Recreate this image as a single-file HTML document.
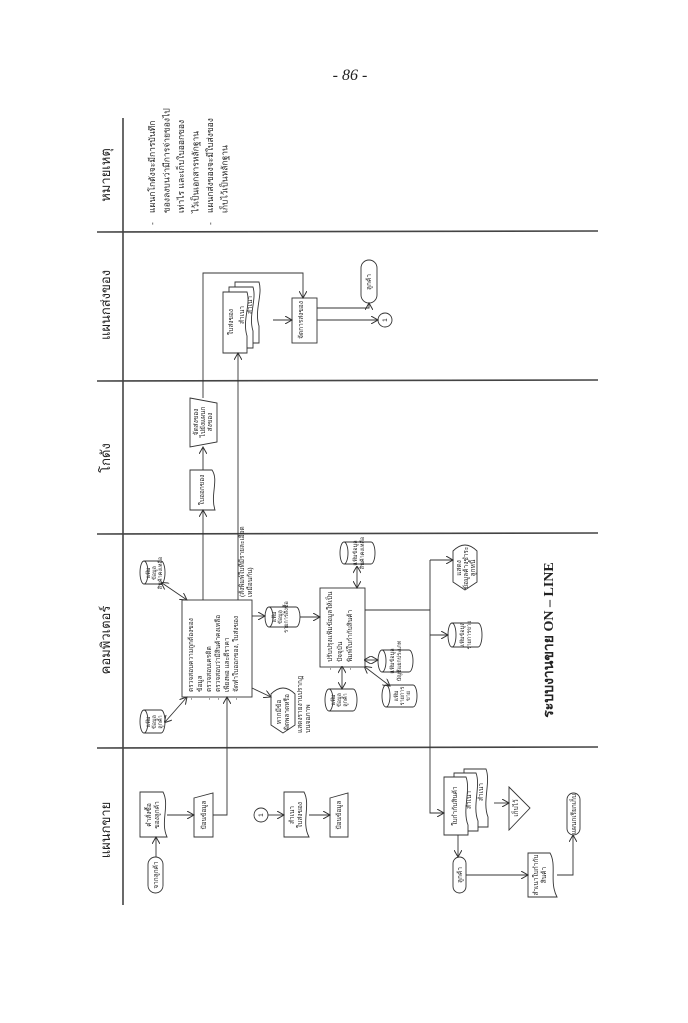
<!DOCTYPE html>
<html><head><meta charset="utf-8"><style>
html,body{margin:0;padding:0;background:#fff}
svg{display:block}
text{font-family:"Liberation Sans","Noto Sans CJK SC",sans-serif;fill:#222}
.s{font-size:6.5px}
.d{font-size:5.5px}
.l{font-size:13px}
.n{font-size:8.5px}
</style></head><body>
<svg width="688" height="1023" viewBox="0 0 688 1023" xmlns="http://www.w3.org/2000/svg">
<defs>
<marker id="a" markerWidth="8" markerHeight="8" refX="7" refY="4" orient="auto" markerUnits="userSpaceOnUse">
<path d="M0,0 L7,4 L0,8" fill="none" stroke="#333" stroke-width="1"/></marker>
<marker id="b" markerWidth="8" markerHeight="8" refX="1" refY="4" orient="auto" markerUnits="userSpaceOnUse">
<path d="M7,0 L0,4 L7,8" fill="none" stroke="#333" stroke-width="1"/></marker>
</defs>
<rect width="688" height="1023" fill="#fff"/>
<text x="350" y="80" text-anchor="middle" style="font-family:'Liberation Serif',serif;font-style:italic;font-size:16px">- 86 -</text>

<g stroke="#444" stroke-width="1.6" fill="none">
<line x1="123" y1="118" x2="123" y2="905"/>
<line x1="97" y1="232" x2="598" y2="231"/>
<line x1="97" y1="381" x2="598" y2="380"/>
<line x1="97" y1="534" x2="598" y2="533"/>
<line x1="97" y1="748" x2="598" y2="747"/>
</g>

<g class="l">
<text transform="translate(110,175) rotate(-90)" text-anchor="middle">หมายเหตุ</text>
<text transform="translate(110,305) rotate(-90)" text-anchor="middle">แผนกส่งของ</text>
<text transform="translate(110,458) rotate(-90)" text-anchor="middle">โกดัง</text>
<text transform="translate(110,640) rotate(-90)" text-anchor="middle">คอมพิวเตอร์</text>
<text transform="translate(110,830) rotate(-90)" text-anchor="middle">แผนกขาย</text>
</g>

<g class="n" transform="translate(155,213) rotate(-90)">
<text x="-12" y="0">-</text><text x="0" y="0">แผนกโกดังจะมีการบันทึก</text>
<text x="0" y="14.5">ของลงบนว่ามีการจ่ายของไป</text>
<text x="0" y="29">เท่าไร และเก็บใบออกของ</text>
<text x="0" y="43.5">ไว้เป็นเอกสารหลักฐาน</text>
<text x="-12" y="58">-</text><text x="0" y="58">แผนกส่งของจะมีใบส่งของ</text>
<text x="0" y="72.5">เก็บไว้เป็นหลักฐาน</text>
</g>

<g stroke="#333" stroke-width="0.9" fill="#fff">
<path d="M223,292 H247 C251,305 242,320 247,336 V353 H223 Z" transform="translate(12,-10)"/>
<path d="M223,292 H247 C251,305 242,320 247,336 V353 H223 Z" transform="translate(6,-5)"/>
<path d="M223,292 H247 C251,305 242,320 247,336 V353 H223 Z"/>
<rect x="292" y="298" width="25" height="45"/>
<rect x="361" y="260" width="16" height="43" rx="8"/>
<circle cx="385" cy="320" r="7"/>
<path d="M190,470 H212 C219,480 210,495 215,510 H190 Z"/>
<path d="M190,398 L217,403 L217,442 L190,447 Z"/>
<rect x="182" y="600" width="70" height="97"/>
<rect x="320" y="588" width="45" height="79"/>
<path d="M283,733 L271,725 L271,694 Q283,682 295,694 L295,725 Z"/>
<path d="M465,590 L453,582 L453,551 Q465,539 477,551 L477,582 Z"/>
<rect x="148" y="857" width="15" height="36" rx="7.5"/>
<path d="M140,792 H163 C170,805 160,822 167,837 H140 Z"/>
<path d="M194,798 L213,793 L213,837 L194,837 Z"/>
<circle cx="261" cy="815" r="7"/>
<path d="M284,792 H304 C311,805 301,822 309,837 H284 Z"/>
<path d="M330,798 L348,793 L348,837 L330,837 Z"/>
<path d="M444,777 H466 C471,790 462,810 468,825 V835 H444 Z" transform="translate(20,-8)"/>
<path d="M444,777 H466 C471,790 462,810 468,825 V835 H444 Z" transform="translate(10,-4)"/>
<path d="M444,777 H466 C471,790 462,810 468,825 V835 H444 Z"/>
<path d="M509,787 L509,830 L530,808 Z"/>
<rect x="453" y="857" width="13" height="36" rx="6.5"/>
<path d="M528,853 H550 C557,865 549,882 557,897 H528 Z"/>
<rect x="567" y="793" width="13" height="42" rx="6.5"/>
</g>

<g stroke="#333" stroke-width="0.9" fill="#fff">
<g transform="translate(140,710)"><path d="M4,0 H21 A4,11.5 0 0 1 21,23 H4 Z"/><ellipse cx="4" cy="11.5" rx="4" ry="11.5"/></g>
<g transform="translate(140,561)"><path d="M4,0 H21 A4,11.5 0 0 1 21,23 H4 Z"/><ellipse cx="4" cy="11.5" rx="4" ry="11.5"/></g>
<g transform="translate(265,607)"><path d="M4,0 H31 A4,10 0 0 1 31,20 H4 Z"/><ellipse cx="4" cy="10" rx="4" ry="10"/></g>
<g transform="translate(340,542)"><path d="M4,0 H31 A4,11 0 0 1 31,22 H4 Z"/><ellipse cx="4" cy="11" rx="4" ry="11"/></g>
<g transform="translate(325,689)"><path d="M4,0 H28 A4,11 0 0 1 28,22 H4 Z"/><ellipse cx="4" cy="11" rx="4" ry="11"/></g>
<g transform="translate(382,685)"><path d="M4,0 H31 A4,11 0 0 1 31,22 H4 Z"/><ellipse cx="4" cy="11" rx="4" ry="11"/></g>
<g transform="translate(378,650)"><path d="M4,0 H31 A4,11 0 0 1 31,22 H4 Z"/><ellipse cx="4" cy="11" rx="4" ry="11"/></g>
<g transform="translate(448,623)"><path d="M4,0 H30 A4,12 0 0 1 30,24 H4 Z"/><ellipse cx="4" cy="12" rx="4" ry="12"/></g>
</g>

<g stroke="#333" stroke-width="0.9" fill="none">
<path d="M203,600 V510" marker-end="url(#a)"/>
<path d="M203,470 V447" marker-end="url(#a)"/>
<path d="M203,398 V273 H303 V298" marker-end="url(#a)"/>
<path d="M238,600 V353" marker-end="url(#a)"/>
<path d="M273,320 H292" marker-end="url(#a)"/>
<path d="M317,308 H369 V303" marker-end="url(#a)"/>
<path d="M317,320 H378" marker-end="url(#a)"/>
<path d="M156,857 V837" marker-end="url(#a)"/>
<path d="M167,815 H194" marker-end="url(#a)"/>
<path d="M213,815 H227 V697" marker-end="url(#a)"/>
<path d="M268,815 H284" marker-end="url(#a)"/>
<path d="M309,815 H330" marker-end="url(#a)"/>
<path d="M165,722 L187,697" marker-end="url(#a)" marker-start="url(#b)"/>
<path d="M162,583 L187,600" marker-end="url(#a)" marker-start="url(#b)"/>
<path d="M252,616 H265" marker-end="url(#a)"/>
<path d="M252,688 L271,697" marker-end="url(#a)"/>
<path d="M300,617 H320" marker-end="url(#a)"/>
<path d="M357,567 V588" marker-end="url(#a)" marker-start="url(#b)"/>
<path d="M342,667 V689" marker-end="url(#a)" marker-start="url(#b)"/>
<path d="M365,660 L378,660" marker-end="url(#a)" marker-start="url(#b)"/>
<path d="M365,667 L390,686" marker-end="url(#a)" marker-start="url(#b)"/>
<path d="M365,610 H430 V813 H444" marker-end="url(#a)"/>
<path d="M430,560 H453" marker-end="url(#a)"/>
<path d="M430,560 V610"/>
<path d="M430,635 H448" marker-end="url(#a)"/>
<path d="M494,803 H509" marker-end="url(#a)"/>
<path d="M458,835 V857" marker-end="url(#a)"/>
<path d="M466,875 H528" marker-end="url(#a)"/>
<path d="M557,875 H573 V835" marker-end="url(#a)"/>
</g>

<g class="s">
<text transform="translate(303,320) rotate(-90)" text-anchor="middle">จัดการส่งของ</text>
<text transform="translate(371,282) rotate(-90)" text-anchor="middle">ลูกค้า</text>
<text transform="translate(387,320) rotate(-90)" text-anchor="middle">1</text>
<text transform="translate(233,322) rotate(-90)" text-anchor="middle">ใบส่งของ</text>
<text transform="translate(244,315) rotate(-90)" text-anchor="middle">สำเนา</text>
<text transform="translate(252,305) rotate(-90)" text-anchor="middle">สำเนา</text>
<text transform="translate(204,490) rotate(-90)" text-anchor="middle">ใบออกของ</text>
<g transform="translate(198,422) rotate(-90)" text-anchor="middle"><text y="0">จัดส่งของ</text><text y="7">ไปยังแผนก</text><text y="14">ส่งของ</text></g>

<g transform="translate(193,692) rotate(-90)"><text x="-8">-</text><text>ตรวจสอบความถูกต้องของ</text><text y="9">ข้อมูล</text><text x="-8" y="18">-</text><text y="18">ตรวจสอบเครดิต</text><text x="-8" y="27">-</text><text y="27">ตรวจสอบว่ามีสินค้าคงเหลือ</text><text y="36">เพียงพอ และตีราคา</text><text x="-8" y="45">-</text><text y="45">จัดทำใบออกของ, ใบส่งของ</text></g>
<g transform="translate(244,597) rotate(-90)"><text>(สั่งพิมพ์ใบที่มีรายละเอียด</text><text y="8">เหมือนกัน)</text></g>
<g transform="translate(281,712) rotate(-90)" text-anchor="middle"><text>หากมีข้อ</text><text y="8">ผิดพลาดหรือ</text></g>
<g transform="translate(302,733) rotate(-90)"><text>แสดงรายงานปรากฏ</text><text y="8">บนจอภาพ</text></g>
<g transform="translate(332,662) rotate(-90)"><text x="-8">-</text><text>ปรับปรุงแฟ้มข้อมูลให้เป็น</text><text y="10">ปัจจุบัน</text><text x="-8" y="20">-</text><text y="20">พิมพ์ใบกำกับสินค้า</text></g>
</g>
<g class="d">
<g transform="translate(150,722) rotate(-90)" text-anchor="middle"><text>แฟ้ม</text><text y="6">ข้อมูล</text><text y="12">ลูกค้า</text></g>
<g transform="translate(150,573) rotate(-90)" text-anchor="middle"><text>แฟ้ม</text><text y="6">ข้อมูล</text><text y="12">สินค้าคงเหลือ</text></g>
<g transform="translate(276,617) rotate(-90)" text-anchor="middle"><text>แฟ้ม</text><text y="6">ข้อมูล</text><text y="12">รายการสั่งซื้อ</text></g>
<g transform="translate(357,553) rotate(-90)" text-anchor="middle"><text>แฟ้มข้อมูล</text><text y="7">สินค้าคงเหลือ</text></g>
<g transform="translate(335,700) rotate(-90)" text-anchor="middle"><text>แฟ้ม</text><text y="6">ข้อมูล</text><text y="12">ลูกค้า</text></g>
<g transform="translate(398,696) rotate(-90)" text-anchor="middle"><text>แฟ้ม</text><text y="6">รายการ</text><text y="12">ขาย</text></g>
<g transform="translate(394,661) rotate(-90)" text-anchor="middle"><text>แฟ้มข้อมูล</text><text y="7">บัญชีแยกประเภท</text></g>
<g transform="translate(464,635) rotate(-90)" text-anchor="middle"><text>แฟ้มข้อมูล</text><text y="7">รายการขาย</text></g>
</g>
<g class="s">
<g transform="translate(461,568) rotate(-90)" text-anchor="middle"><text>แสดง</text><text y="7">ข้อมูลค้างชำระ</text><text y="14">ลูกหนี้</text></g>

<text transform="translate(158,875) rotate(-90)" text-anchor="middle">จากลูกค้า</text>
<g transform="translate(151,815) rotate(-90)" text-anchor="middle"><text>คำสั่งซื้อ</text><text y="8">ของลูกค้า</text></g>
<text transform="translate(206,815) rotate(-90)" text-anchor="middle">ป้อนข้อมูล</text>
<text transform="translate(263,815) rotate(-90)" text-anchor="middle">1</text>
<g transform="translate(294,815) rotate(-90)" text-anchor="middle"><text>สำเนา</text><text y="8">ใบส่งของ</text></g>
<text transform="translate(341,815) rotate(-90)" text-anchor="middle">ป้อนข้อมูล</text>
<text transform="translate(457,806) rotate(-90)" text-anchor="middle">ใบกำกับสินค้า</text>
<text transform="translate(471,800) rotate(-90)" text-anchor="middle">สำเนา</text>
<text transform="translate(483,792) rotate(-90)" text-anchor="middle">สำเนา</text>
<text transform="translate(518,808) rotate(-90)" text-anchor="middle">เก็บไว้</text>
<text transform="translate(462,875) rotate(-90)" text-anchor="middle">ลูกค้า</text>
<g transform="translate(538,875) rotate(-90)" text-anchor="middle"><text>สำเนาใบกำกับ</text><text y="8">สินค้า</text></g>
<text transform="translate(576,814) rotate(-90)" text-anchor="middle">แผนกเรียกเก็บ</text>
</g>

<text transform="translate(553,640) rotate(-90)" text-anchor="middle" style="font-family:'Liberation Serif','Noto Serif CJK SC',serif;font-weight:bold;font-size:14px">ระบบงานขาย  ON – LINE</text>
</svg>
</body></html>
